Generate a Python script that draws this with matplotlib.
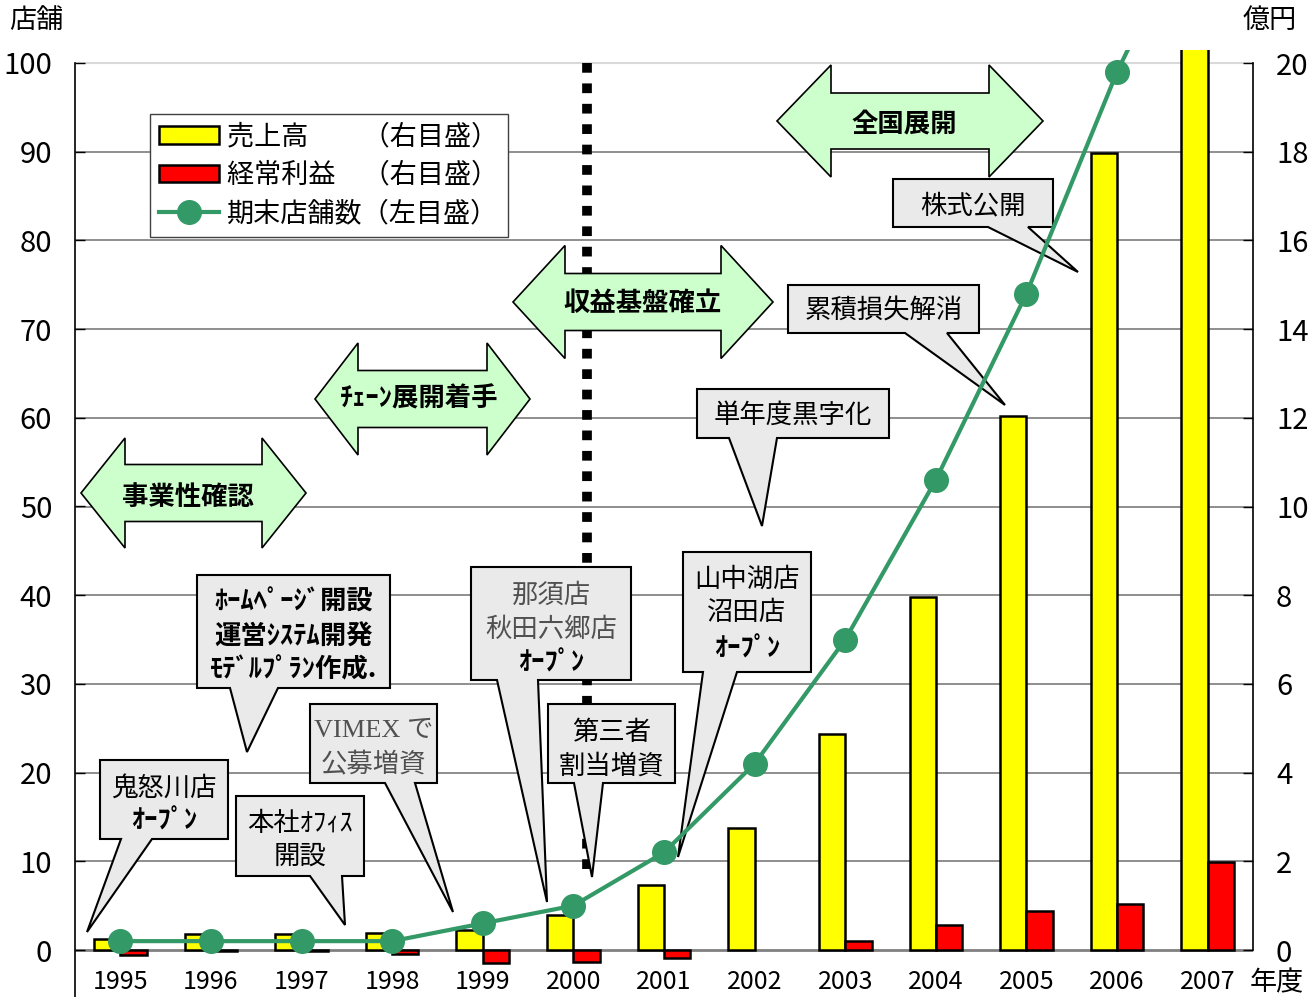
import numpy as np
import matplotlib
matplotlib.use('Agg')
import matplotlib.pyplot as plt
from matplotlib.patches import Polygon
from matplotlib.lines import Line2D
from matplotlib import font_manager

plt.rcParams['font.family'] = ['Noto Sans CJK JP', 'DejaVu Sans']

# data
years = ['1995', '1996', '1997', '1998', '1999', '2000', '2001',
         '2002', '2003', '2004', '2005', '2006', '2007']
sales = [0.24, 0.36, 0.36, 0.39, 0.45, 0.79, 1.47, 2.75, 4.87, 7.96, 12.04, 17.97, 25.0]   # 億円
profit = [-0.11, -0.03, -0.03, -0.09, -0.29, -0.27, -0.18, 0.0, 0.20, 0.56, 0.88, 1.04, 1.98]  # 億円
stores = [1, 1, 1, 1, 3, 5, 11, 21, 35, 53, 74, 99, 120]
left_ticks = list(range(0, 101, 10))
right_ticks = list(range(0, 21, 2))
legend_labels = ['売上高\u3000\u3000（右目盛）', '経常利益\u3000（右目盛）', '期末店舗数（左目盛）']

names = {f.name for f in font_manager.fontManager.ttflist}
num_font = 'Liberation Sans Narrow' if 'Liberation Sans Narrow' in names else 'Noto Sans CJK JP'

W, H = 1315, 997
def P(x, y):
    # pixel (from top-left) -> figure fraction
    return (x / W, 1 - y / H)

fig = plt.figure(figsize=(W / 100, H / 100), dpi=100)
ax = fig.add_axes([75 / W, 0, (1253 - 75) / W, (997 - 50) / H])
ax2 = ax.twinx()

ppu = (950 - 63) / 100.0
ylo = -(997 - 950) / ppu
yhi = (950 - 50) / ppu
x = np.arange(len(years))

ax.set_xlim(-0.5, len(years) - 0.5)
ax.set_ylim(ylo, yhi)
ax2.set_ylim(ylo / 5, yhi / 5)

# gridlines behind bars
for v in right_ticks:
    if v == 0:
        ax2.axhline(v, color='#808080', lw=2, zorder=0.5)
    elif v == 20:
        ax2.axhline(v, color='#d9d9d9', lw=1.5, zorder=0.5)
    else:
        ax2.axhline(v, color='#707070', lw=1.1, zorder=0.5)

bw = 0.29
b1 = ax2.bar(x - bw / 2, sales, bw, color='#FFFF00', edgecolor='black', lw=1.8, zorder=2)
plw = [0 if v == 0 else 1.8 for v in profit]
b2 = ax2.bar(x + bw / 2, profit, bw, color='#FF0000', edgecolor='black', lw=plw, zorder=2)

ln, = ax.plot(x, stores, color='#339966', lw=3, marker='o', ms=17, zorder=5)

ax.set_zorder(ax2.get_zorder() + 1)
ax.patch.set_visible(False)

# spines / ticks
for s in ['top', 'bottom', 'right']:
    ax.spines[s].set_visible(False)
for s in ['top', 'bottom', 'left']:
    ax2.spines[s].set_visible(False)
ax.spines['left'].set_bounds(ylo, 100)
ax2.spines['right'].set_bounds(0, 20)
ax.spines['left'].set_linewidth(1.2)
ax2.spines['right'].set_linewidth(1.2)

ax.set_yticks(left_ticks, [str(v) for v in left_ticks], fontfamily=num_font, fontsize=21)
ax2.set_yticks(right_ticks, [str(v) for v in right_ticks], fontfamily=num_font, fontsize=21)
ax.tick_params(axis='y', direction='in', length=7, width=1, pad=16.5)
ax2.tick_params(axis='y', direction='in', length=7, width=1, pad=16.5)
ax.set_xticks(x, years, fontfamily=num_font, fontsize=18)
ax.tick_params(axis='x', length=0, pad=-20.5)

# axis titles
fig.text(*P(36, 21), '店舗', ha='center', va='center', fontsize=19.5)
fig.text(*P(1270, 20), '億円', ha='center', va='center', fontsize=19.5)
fig.text(*P(1277, 983), '年度', ha='center', va='center', fontsize=19.5)

# dotted divider
ax.add_artist(Line2D([587 / W, 587 / W], [1 - 63 / H, 1 - 877 / H], transform=fig.transFigure,
                     color='black', lw=7, dashes=(1.0, 1.1), dash_capstyle='butt', zorder=2))

# double-headed block arrows
def double_arrow(x0, x1, yc, head, half, shaft, text, tx, ty):
    verts = [(x0, yc), (x0 + head, yc - half), (x0 + head, yc - shaft), (x1 - head, yc - shaft),
             (x1 - head, yc - half), (x1, yc), (x1 - head, yc + half), (x1 - head, yc + shaft),
             (x0 + head, yc + shaft), (x0 + head, yc + half)]
    ax.add_artist(Polygon([P(*v) for v in verts], closed=True, transform=fig.transFigure,
                          facecolor='#CCFFCC', edgecolor='black', lw=1.2, zorder=2.5, clip_on=False))
    ax.text(*P(tx, ty), text, transform=fig.transFigure, ha='center', va='center',
            fontsize=19, fontweight='bold', zorder=2.6)

double_arrow(81, 306, 493, 44, 55, 28.5, '事業性確認', 188, 497)
double_arrow(315, 530, 399, 43, 56, 28.5, 'ﾁｪｰﾝ展開着手', 419, 399)
double_arrow(513, 773, 302, 52, 56.5, 28.5, '収益基盤確立', 643, 303)
double_arrow(777, 1043, 121, 54, 56, 28, '全国展開', 904, 124)

# callouts
def callout(box, base, tip, lines):
    x0, y0, x1, y1 = box
    verts = [(x0, y0), (x1, y0), (x1, y1), (base[1], y1), tip, (base[0], y1), (x0, y1)]
    ax.add_artist(Polygon([P(*v) for v in verts], closed=True, transform=fig.transFigure,
                          facecolor='#EAEAEA', edgecolor='black', lw=1.5, zorder=3, clip_on=False))
    for txt, yc, kw in lines:
        ax.text(*P((x0 + x1) / 2, yc), txt, transform=fig.transFigure, ha='center', va='center',
                fontsize=19, zorder=3.5, **kw)

bold = {'fontweight': 'bold'}
norm = {}
grey = {'color': '#505050'}

callout((100, 760, 228, 839), (121, 152), (87, 932),
        [('鬼怒川店', 788, norm), ('ｵｰﾌﾟﾝ', 821, bold)])
callout((236, 796, 364, 876), (310, 342), (345, 925),
        [('本社ｵﾌｨｽ', 823, norm), ('開設', 856, norm)])
callout((310, 704, 437, 783), (385, 415), (453, 912),
        [('VIMEX で', 731, {'color': '#505050', 'family': ['Liberation Serif', 'Noto Sans CJK JP']}),
         ('公募増資', 765, grey)])
callout((197, 575, 390, 688), (230, 278), (247, 752),
        [('ﾎｰﾑﾍﾟｰｼﾞ開設', 602, bold), ('運営ｼｽﾃﾑ開発', 637, bold), ('ﾓﾃﾞﾙﾌﾟﾗﾝ作成.', 670, bold)])
callout((471, 567, 631, 680), (497, 538), (547, 902),
        [('那須店', 595, grey), ('秋田六郷店', 629, grey), ('ｵｰﾌﾟﾝ', 663, bold)])
callout((548, 704, 675, 783), (574, 603), (592, 877),
        [('第三者', 732, norm), ('割当増資', 766, norm)])
callout((683, 552, 811, 672), (703, 737), (678, 857),
        [('山中湖店', 579, norm), ('沼田店', 613, norm), ('ｵｰﾌﾟﾝ', 649, bold)])
callout((697, 389, 889, 438), (729, 777), (762, 526),
        [('単年度黒字化', 415, norm)])
callout((788, 285, 979, 333), (905, 947), (1005, 405),
        [('累積損失解消', 311, norm)])
callout((893, 179, 1053, 227), (988, 1028), (1078, 272),
        [('株式公開', 206, norm)])

# legend
leg = ax.legend([b1, b2, ln], legend_labels, loc='upper left', bbox_to_anchor=P(150, 114),
                bbox_transform=fig.transFigure, borderaxespad=0, fancybox=False, framealpha=1,
                edgecolor='#404040', fontsize=19.5, borderpad=0.35, labelspacing=0.42,
                handlelength=2.2, handleheight=0.6, handletextpad=0.3)
leg.get_frame().set_linewidth(1.0)
leg.set_zorder(6)

fig.savefig('out.png', dpi=100)
